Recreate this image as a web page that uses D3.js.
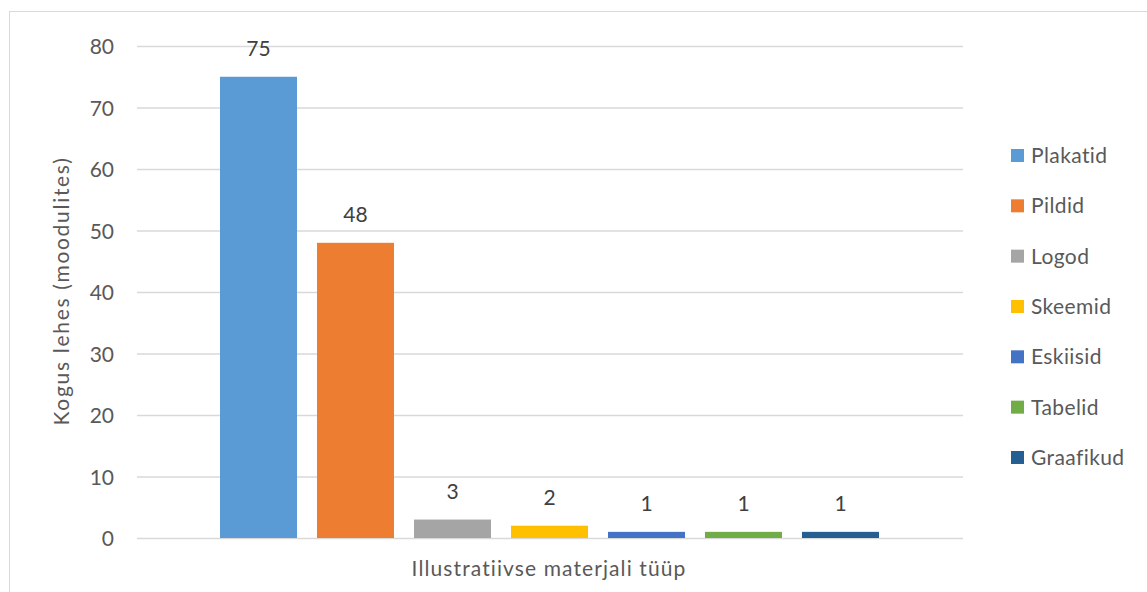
<!DOCTYPE html>
<html><head><meta charset="utf-8">
<script src="https://cdn.jsdelivr.net/npm/d3@7"></script>
<style>body{margin:0;background:#fff}svg{display:block}text{font-family:Lato,"Open Sans",sans-serif}</style>
</head><body>
<svg id="c" width="1147" height="592"></svg>
<script>
const categories = ["Plakatid","Pildid","Logod","Skeemid","Eskiisid","Tabelid","Graafikud"];
const values = [75,48,3,2,1,1,1];
const colors = ["#5b9bd5","#ed7d31","#a5a5a5","#ffc000","#4472c4","#70ad47","#255e91"];
const yTicks = [0,10,20,30,40,50,60,70,80];
const groupLabel = "Illustratiivse materjali tüüp";
const yTitle = "Kogus lehes (moodulites)";

const svg = d3.select("#c");
svg.append("rect").attr("x",9.5).attr("y",11.5).attr("width",1200).attr("height",700)
  .attr("fill","#fff").attr("stroke","#d9d9d9");

const plot = {l:137, r:963, t:46, b:538};
const y = d3.scaleLinear().domain([0,80]).range([plot.b, plot.t]);
const xg = d3.scaleBand().domain([groupLabel]).range([plot.l, plot.r]);
const inner = d3.scaleBand().domain(categories).range([220, 879]).paddingInner(20/97).paddingOuter(0);

// gridlines
const yAxis = d3.axisLeft(y).tickValues(yTicks).tickSize(-(plot.r-plot.l));
const ga = svg.append("g").attr("transform",`translate(${plot.l},0)`).call(yAxis);
ga.select(".domain").remove();
ga.selectAll(".tick line").attr("stroke","#d9d9d9").attr("stroke-width",1.3);
ga.selectAll(".tick text").attr("fill","#595959").style("font-size","21px").attr("x",-23).attr("dy","0.36em");

// bars
svg.append("g").selectAll("rect").data(categories).join("rect")
  .attr("x",d=>inner(d)).attr("width",inner.bandwidth())
  .attr("y",(d,i)=>y(values[i])).attr("height",(d,i)=>y(0)-y(values[i]))
  .attr("fill",(d,i)=>colors[i]);

// data labels
svg.append("g").selectAll("text").data(categories).join("text")
  .attr("x",d=>inner(d)+inner.bandwidth()/2).attr("y",(d,i)=>y(values[i])-21)
  .attr("text-anchor","middle").attr("fill","#404040").style("font-size","21px")
  .text((d,i)=>values[i]);

// axis titles
svg.append("text").attr("x",xg(groupLabel)+xg.bandwidth()/2-1).attr("y",576)
  .attr("text-anchor","middle").attr("fill","#595959").style("font-size","21px")
  .style("letter-spacing","1.1px").text(groupLabel);
svg.append("text").attr("transform","translate(69,291) rotate(-90)")
  .attr("text-anchor","middle").attr("fill","#595959").style("font-size","21px")
  .style("letter-spacing","1.7px").text(yTitle);

// legend
const lg = svg.append("g").selectAll("g").data(categories).join("g")
  .attr("transform",(d,i)=>`translate(1011,${155.5 + i*50.33})`);
lg.append("rect").attr("x",0).attr("y",-6.5).attr("width",13).attr("height",13).attr("fill",(d,i)=>colors[i]);
lg.append("text").attr("x",20).attr("y",7.5).attr("fill","#595959").style("font-size","21px")
  .style("letter-spacing","0.4px").text(d=>d);
</script>
</body></html>
